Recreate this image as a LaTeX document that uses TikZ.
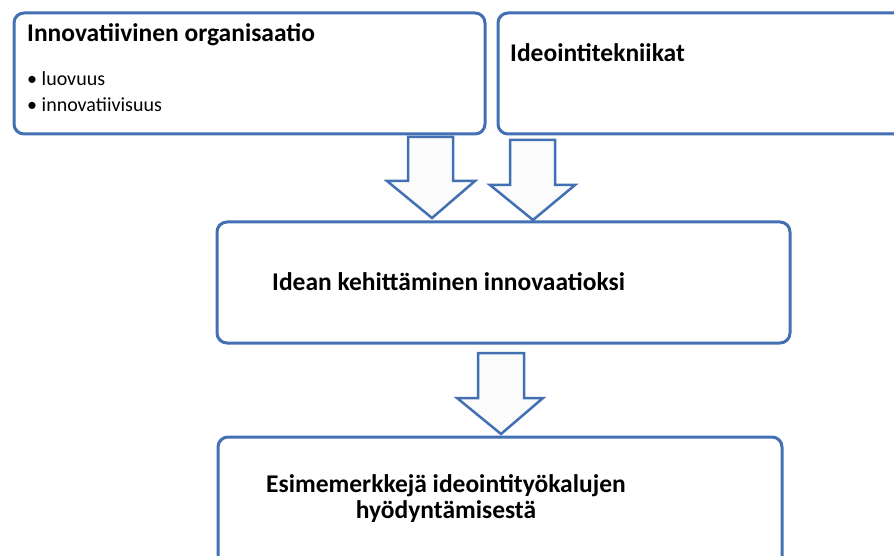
\documentclass[tikz,border=0pt]{standalone}
\usepackage{fontspec}
\setmainfont{Carlito}
\usepackage{tikz}

\definecolor{boxblue}{HTML}{4270B2}

\begin{document}
\begin{tikzpicture}[x=1pt, y=-1pt,
    box/.style={draw=boxblue, line width=3pt, rounded corners=10pt, fill=white, inner sep=0pt},
    blockarrow/.style={draw=boxblue, line width=2.5pt, fill=gray!3, line join=miter},
    heading/.style={font=\fontsize{25.5}{26}\selectfont\bfseries, inner sep=0pt, anchor=base west},
    itemtext/.style={font=\fontsize{20}{22}\selectfont, inner sep=0pt, anchor=base west}]
        \useasboundingbox (0,0) rectangle (894,556);

        \node [box, minimum width=471pt, minimum height=121pt] (org)   at (249.5,73.5) {};  %top left
        \node [box, minimum width=410pt, minimum height=121pt] (tech)  at (703,73.5)   {};  %top right
        \node [box, minimum width=573pt, minimum height=121pt] (idea)  at (503.5,282.5) {}; %middle
        \node [box, minimum width=564pt, minimum height=136pt] (examp) at (500,505)    {};  %bottom

        \node [heading]  (orgtitle)  at (27,42)   {Innovatiivinen organisaatio};
        \node [itemtext] (orgitema)  at (27,86)   {\textbullet\ luovuus};
        \node [itemtext] (orgitemb)  at (27,112)  {\textbullet\ innovatiivisuus};
        \node [heading]  (techtitle) at (510,62)  {Ideointitekniikat};
        \node [heading]  (ideatitle) at (272,290) {Idean kehittäminen innovaatioksi};
        \node [heading, anchor=base, align=center] (examptitle) at (446,518)
              {Esimemerkkejä ideointityökalujen\\hyödyntämisestä};

        \draw [blockarrow] (408,137) -- (453,137) -- (453,181) -- (475,181)
              -- (432,218) -- (387,181) -- (408,181) -- cycle;                %org to idea
        \draw [blockarrow] (510,140) -- (555,140) -- (555,185) -- (575,185)
              -- (533,220) -- (490,185) -- (510,185) -- cycle;                %tech to idea
        \draw [blockarrow] (478,353) -- (524,353) -- (524,398) -- (543,398)
              -- (501,434) -- (457,398) -- (478,398) -- cycle;                %idea to examples
\end{tikzpicture}
\end{document}
